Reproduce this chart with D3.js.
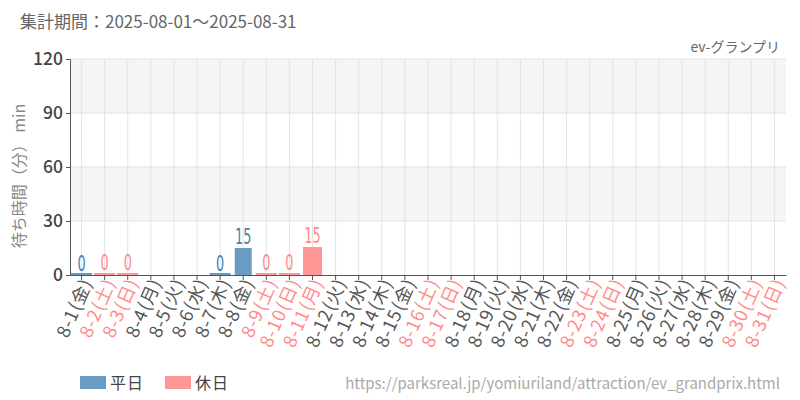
<!DOCTYPE html>
<html><head><meta charset="utf-8">
<script src="https://cdn.jsdelivr.net/npm/d3@7"></script>
<style>body{margin:0;background:#fff}svg{display:block}</style>
</head><body>
<svg id="c" width="800" height="400"></svg>
<script>
const categories = ["8-1","8-2","8-3","8-4","8-5","8-6","8-7","8-8","8-9","8-10","8-11","8-12","8-13","8-14","8-15","8-16","8-17","8-18","8-19","8-20","8-21","8-22","8-23","8-24","8-25","8-26","8-27","8-28","8-29","8-30","8-31"];
const weekdays = ["金","土","日","月","火","水","木","金","土","日","月","火","水","木","金","土","日","月","火","水","木","金","土","日","月","火","水","木","金","土","日"];
const holiday = [0,1,1,0,0,0,0,0,1,1,1,0,0,0,0,1,1,0,0,0,0,0,1,1,0,0,0,0,0,1,1];
const values = [0,0,0,null,null,null,0,15,0,0,15,null,null,null,null,null,null,null,null,null,null,null,null,null,null,null,null,null,null,null,null];
const yTicks = [0,30,60,90,120];
const legendLabels = ["平日","休日"];
const titleText = "集計期間：2025-08-01～2025-08-31";
const subtitleText = "ev-グランプリ";
const urlText = "https://parksreal.jp/yomiuriland/attraction/ev_grandprix.html";
const yTitle = "待ち時間（分） min";

const colW = "#6a9bc3", colH = "#ff9797";
const txtW = "#555", txtH = "#ff8a8a";
const svg = d3.select("#c");
const font = "'Noto Sans CJK JP','Noto Sans',sans-serif";
const L = 70, R = 786, T = 59, B = 275;
const x = d3.scaleBand().domain(categories).range([L, R]).padding(0);
const y = d3.scaleLinear().domain([0, 120]).range([B, T]);

// bands
for (let i = 0; i < yTicks.length - 1; i++) {
  if (i % 2 === 1) {
    svg.append("rect").attr("x", L).attr("width", R - L)
      .attr("y", y(yTicks[i+1])).attr("height", y(yTicks[i]) - y(yTicks[i+1]))
      .attr("fill", "#f5f5f5");
  }
}
// grid
svg.append("g").selectAll("line").data(yTicks.slice(1)).join("line")
  .attr("x1", L).attr("x2", R).attr("y1", d => y(d)).attr("y2", d => y(d))
  .attr("stroke", "#e4e4e4").attr("stroke-width", 1);
svg.append("g").selectAll("line").data(categories).join("line")
  .attr("x1", d => x(d) + x.bandwidth()/2).attr("x2", d => x(d) + x.bandwidth()/2)
  .attr("y1", T).attr("y2", B)
  .attr("stroke", "#e4e4e4").attr("stroke-width", 1);

// bars
const data = categories.map((c, i) => ({c, v: values[i], h: holiday[i]})).filter(d => d.v !== null);
svg.append("g").selectAll("rect").data(data).join("rect")
  .attr("x", d => x(d.c) + x.bandwidth()/2 - (d.v === 0 ? 10.5 : (d.h ? 9.5 : 8.5)))
  .attr("width", d => d.v === 0 ? 21 : (d.h ? 19 : 17))
  .attr("y", d => d.v === 0 ? y(0) - 2 : y(d.v) - (d.h ? 1 : 0))
  .attr("height", d => d.v === 0 ? 2 : y(0) - y(d.v) + (d.h ? 1 : 0))
  .attr("fill", d => d.h ? colH : colW);
svg.append("g").selectAll("text").data(data).join("text")
  .attr("x", 0)
  .attr("y", d => y(d.v) - 4 - (d.h ? 1 : 0))
  .attr("text-anchor", "middle")
  .attr("font-family", "'DejaVu Sans Condensed','DejaVu Sans',sans-serif")
  .attr("font-size", 21)
  .attr("transform", d => `translate(${x(d.c) + x.bandwidth()/2},0) scale(0.68,1)`)
  .attr("fill", d => d.h ? txtH : "#4a7fb0")
  .text(d => d.v);

// axes
const yAxis = svg.append("g").attr("transform", `translate(${L},0)`)
  .call(d3.axisLeft(y).tickValues(yTicks).tickSize(4).tickPadding(3));
yAxis.select(".domain").attr("stroke", "#555");
yAxis.selectAll(".tick line").attr("stroke", "#555");
yAxis.selectAll("text").attr("font-family", font).attr("font-size", 17.5)
  .attr("font-weight", 500).attr("fill", "#444");

const xAxis = svg.append("g").attr("transform", `translate(0,${B})`)
  .call(d3.axisBottom(x).tickSize(5).tickSizeOuter(0).tickFormat((d, i) => d + " (" + weekdays[i] + ")"));
xAxis.select(".domain").attr("stroke", "#555");
xAxis.selectAll(".tick line").attr("stroke", "#555");
xAxis.selectAll("text")
  .attr("font-family", font).attr("font-size", 18)
  .attr("fill", (d, i) => holiday[i] ? txtH : txtW)
  .attr("text-anchor", "end").attr("dy", null).attr("y", 0)
  .attr("transform", "translate(4,4) rotate(-66)")
  .attr("dominant-baseline", "central")
  .style("letter-spacing", "0.8px")
  .style("word-spacing", "-4px");

// y title
svg.append("text").attr("transform", `translate(25,${176}) rotate(-90)`)
  .attr("text-anchor", "middle").attr("font-family", font).attr("font-size", 16)
  .attr("fill", "#888").text(yTitle);

// titles
svg.append("text").attr("x", 20).attr("y", 28).attr("font-family", font)
  .attr("font-size", 17).attr("fill", "#666").text(titleText);
svg.append("text").attr("x", 780).attr("y", 52).attr("text-anchor", "end")
  .attr("font-family", font).attr("font-size", 14).attr("fill", "#666").text(subtitleText);

// legend
const lg = svg.append("g");
legendLabels.forEach((t, i) => {
  const lx = 80 + i * 85;
  lg.append("rect").attr("x", lx).attr("y", 376).attr("width", 26).attr("height", 13)
    .attr("fill", i ? colH : colW);
  lg.append("text").attr("x", lx + 30).attr("y", 389).attr("font-family", font)
    .attr("font-size", 16).style("letter-spacing", "1px").attr("fill", "#444").text(t);
});
svg.append("text").attr("x", 780).attr("y", 389).attr("text-anchor", "end")
  .attr("font-family", font).attr("font-size", 15).attr("fill", "#aaa").text(urlText);
</script>
</body></html>
